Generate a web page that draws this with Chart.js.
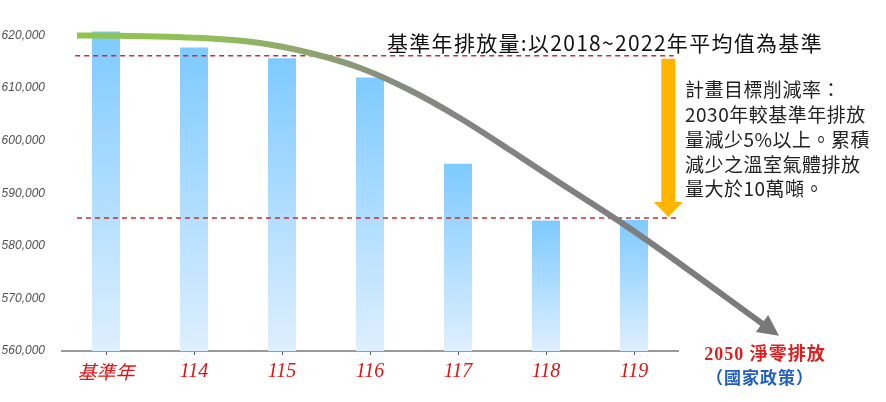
<!DOCTYPE html>
<html>
<head>
<meta charset="utf-8">
<script src="https://cdn.jsdelivr.net/npm/chart.js@4.4.1/dist/chart.umd.min.js"></script>
<style>
  html, body { margin: 0; padding: 0; background: #fff; }
</style>
</head>
<body>
<canvas id="myChart" width="886" height="402"></canvas>
<script>
// categories and values
const categories = ['基準年', '114', '115', '116', '117', '118', '119'];
const emissions = [620760, 617720, 615700, 612010, 595590, 584800, 584900];
const baselineLevel = 616140;   // upper dashed line
const targetLevel = 585310;     // lower dashed line (-5%)
const yTickValues = [560000, 570000, 580000, 590000, 600000, 610000, 620000];

// trend arrow (green -> gray) in category-index / value units
const trendX = [-0.33, 0.16, 1.18, 1.75, 2.32, 2.89, 3.45, 4.02, 4.59, 5.16, 5.81, 6.16, 7.51];
const trendY = [620000, 619940, 619430, 618570, 616670, 613820, 609630, 604310, 598220, 591950, 584910, 580910, 564560];

const titleText = '基準年排放量:以2018~2022年平均值為基準';
const noteLines = ['計畫目標削減率：', '2030年較基準年排放', '量減少5%以上。累積', '減少之溫室氣體排放', '量大於10萬噸。'];
const goalText = '2050 淨零排放';
const goalSub = '（國家政策）';
const arrowX = 6.39;

const overlay = {
  id: 'overlay',
  afterDatasetsDraw(chart) {
    const ctx = chart.ctx;
    const xc = chart.scales.xc, y = chart.scales.y;
    ctx.save();
    // orange arrow between the two dashed lines
    const ax = xc.getPixelForValue(arrowX);
    const top = y.getPixelForValue(baselineLevel) + 3;
    const tip = y.getPixelForValue(targetLevel) - 1;
    ctx.fillStyle = '#FFB400';
    ctx.fillRect(ax - 7, top, 14, tip - top - 14);
    ctx.beginPath();
    ctx.moveTo(ax - 14.5, tip - 15);
    ctx.lineTo(ax + 14.5, tip - 15);
    ctx.lineTo(ax, tip);
    ctx.closePath();
    ctx.fill();

    // head of the trend arrow
    const pts = chart.getDatasetMeta(0).data;
    const a = pts[pts.length - 2], b = pts[pts.length - 1];
    const dx = b.x - a.x, dy = b.y - a.y, len = Math.hypot(dx, dy);
    const ux = dx / len, uy = dy / len;
    const tx = b.x + ux * 15, ty = b.y + uy * 15;
    const bx = b.x - ux * 6, by = b.y - uy * 6;
    ctx.fillStyle = '#787878';
    ctx.beginPath();
    ctx.moveTo(tx, ty);
    ctx.lineTo(bx - uy * 10.5, by + ux * 10.5);
    ctx.lineTo(bx + uy * 10.5, by - ux * 10.5);
    ctx.closePath();
    ctx.fill();
    ctx.restore();
  },
  afterDraw(chart) {
    const ctx = chart.ctx;
    ctx.save();
    ctx.textBaseline = 'middle';
    ctx.fillStyle = '#111';
    ctx.font = '21px "Noto Sans CJK TC"';
    ctx.letterSpacing = '1.3px';
    ctx.fillText(titleText, 387, 43);

    ctx.fillStyle = '#222';
    ctx.font = '19px "Noto Sans CJK TC"';
    ctx.letterSpacing = '0.5px';
    noteLines.forEach((l, i) => ctx.fillText(l, 685, 90 + i * 24.8));

    ctx.textAlign = 'center';
    ctx.letterSpacing = '1px';
    ctx.font = 'bold 18px "Liberation Serif", "Noto Sans CJK TC"';
    ctx.fillStyle = '#E01E1E';
    ctx.fillText(goalText, 765, 355);
    ctx.fillStyle = '#1F5FBF';
    ctx.font = 'bold 17px "Noto Sans CJK TC"';
    ctx.fillText(goalSub, 760, 378);
    ctx.restore();
  }
};

function barGradient(c) {
  const chart = c.chart;
  if (!chart.chartArea) return '#8fd0ff';
  const yTop = chart.scales.y.getPixelForValue(c.raw);
  const g = chart.ctx.createLinearGradient(0, yTop, 0, chart.chartArea.bottom);
  g.addColorStop(0, 'rgb(126,202,255)');
  g.addColorStop(1, 'rgb(222,239,255)');
  return g;
}

function trendGradient(c) {
  const chart = c.chart;
  if (!chart.chartArea) return '#8a8a8a';
  const xc = chart.scales.xc;
  const x0 = xc.getPixelForValue(trendX[0]);
  const x1 = xc.getPixelForValue(trendX[trendX.length - 1]);
  const g = chart.ctx.createLinearGradient(x0, 0, x1, 0);
  g.addColorStop(0, 'rgb(140,198,74)');
  g.addColorStop(0.19, 'rgb(146,190,92)');
  g.addColorStop(0.33, 'rgb(143,165,110)');
  g.addColorStop(0.45, 'rgb(136,142,126)');
  g.addColorStop(0.55, 'rgb(132,132,132)');
  g.addColorStop(1, 'rgb(122,122,122)');
  return g;
}

const ctx = document.getElementById('myChart').getContext('2d');
new Chart(ctx, {
  type: 'bar',
  data: {
    labels: categories,
    datasets: [
      {
        type: 'line',
        xAxisID: 'xc',
        data: trendX.map((x, i) => ({ x: x, y: trendY[i] })),
        borderColor: trendGradient,
        borderWidth: 6,
        pointRadius: 0,
        cubicInterpolationMode: 'monotone',
        clip: false,
        order: 1
      },
      {
        type: 'line',
        xAxisID: 'xc',
        data: [{ x: -0.35, y: baselineLevel }, { x: 6.45, y: baselineLevel }],
        borderColor: 'rgb(192,48,48)',
        borderWidth: 1.5,
        borderDash: [5, 4],
        pointRadius: 0,
        clip: false,
        order: 2
      },
      {
        type: 'line',
        xAxisID: 'xc',
        data: [{ x: -0.33, y: targetLevel }, { x: 6.5, y: targetLevel }],
        borderColor: 'rgb(192,48,48)',
        borderWidth: 1.5,
        borderDash: [5, 4],
        pointRadius: 0,
        clip: false,
        order: 2
      },
      {
        data: emissions,
        backgroundColor: barGradient,
        grouped: false,
        categoryPercentage: 1,
        barPercentage: 0.318,
        order: 3
      }
    ]
  },
  options: {
    responsive: false,
    animation: false,
    layout: { padding: { top: 25, right: 208, left: 0, bottom: 0 } },
    plugins: { legend: { display: false }, tooltip: { enabled: false } },
    scales: {
      x: {
        grid: { display: true, drawOnChartArea: false, drawTicks: true, tickLength: 4, offset: false, color: '#555', lineWidth: 1 },
        border: { display: true, color: '#9a9a9a', width: 2 },
        ticks: {
          color: '#E01414',
          padding: 5,
          font: (c) => c.index === 0
            ? { family: '"Noto Sans CJK TC"', size: 19, style: 'italic' }
            : { family: '"Liberation Serif"', size: 20, style: 'italic' }
        },
        afterFit: (s) => { s.height = 51; }
      },
      xc: {
        type: 'linear',
        display: false,
        offset: false,
        grid: { offset: false },
        min: -0.5,
        max: 6.5
      },
      y: {
        min: 560000,
        max: 622000,
        grid: { display: false, drawTicks: false },
        border: { display: false },
        afterBuildTicks: (s) => { s.ticks = yTickValues.map(v => ({ value: v })); },
        ticks: {
          padding: 17,
          color: '#505050',
          font: { family: '"Liberation Sans"', size: 12, style: 'italic' },
          callback: (v) => v.toLocaleString('en-US')
        },
        afterFit: (s) => { s.width = 62; }
      }
    }
  },
  plugins: [overlay]
});
</script>
</body>
</html>
